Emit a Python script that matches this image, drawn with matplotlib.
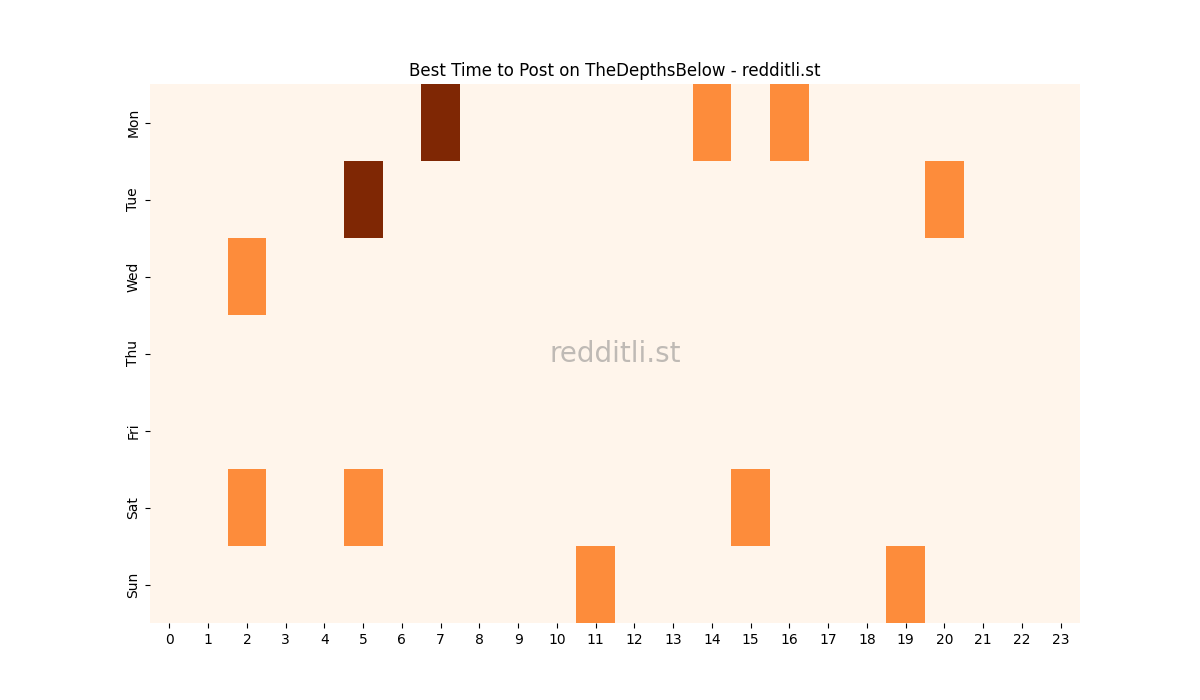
import numpy as np
import matplotlib
matplotlib.use("Agg")
import matplotlib.pyplot as plt

days = ["Mon", "Tue", "Wed", "Thu", "Fri", "Sat", "Sun"]
hours = list(range(24))

# (day, hour, value) of the non-zero cells
mon = {7: 2, 14: 1, 16: 1}
tue = {5: 2, 20: 1}
wed = {2: 1}
thu = {}
fri = {}
sat = {2: 1, 5: 1, 15: 1}
sun = {11: 1, 19: 1}

rows = [mon, tue, wed, thu, fri, sat, sun]
grid = np.zeros((len(days), len(hours)))
for i, r in enumerate(rows):
    for h, v in r.items():
        grid[i, h] = v

fig, ax = plt.subplots(figsize=(12, 7), dpi=100)
ax.pcolormesh(grid, cmap="Oranges", vmin=0, vmax=2)
ax.set_xlim(0, 24)
ax.set_ylim(7, 0)
ax.set_xticks(np.arange(24) + 0.5)
ax.set_xticklabels([str(h) for h in hours])
ax.set_yticks(np.arange(7) + 0.5)
ax.set_yticklabels(days, rotation=90, va="center")
for s in ax.spines.values():
    s.set_visible(False)
ax.set_title("Best Time to Post on TheDepthsBelow - redditli.st")
ax.text(0.5, 0.5, "redditli.st", transform=ax.transAxes, ha="center", va="center",
        fontsize=20, color="gray", alpha=0.5)

fig.savefig("out.png")
